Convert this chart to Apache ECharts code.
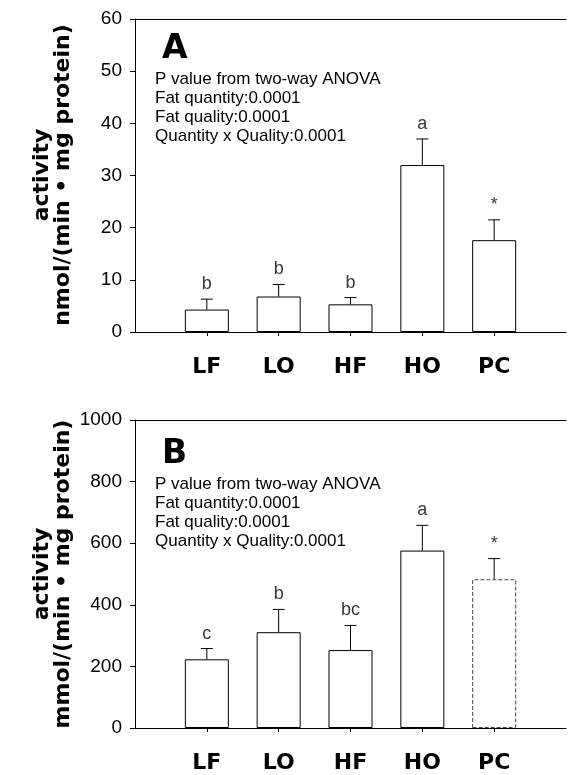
<!DOCTYPE html>
<html>
<head>
<meta charset="utf-8">
<script src="https://cdn.jsdelivr.net/npm/echarts@6/dist/echarts.min.js"></script>
<style>
html,body{margin:0;padding:0;background:#fff;}
#chart{width:569px;height:775px;}
</style>
</head>
<body>
<div id="chart"></div>
<script>
// ---- data ----
const categories = ['LF', 'LO', 'HF', 'HO', 'PC'];
const meanA = [4.3, 6.8, 5.3, 32.0, 17.6];
const errA  = [2.0, 2.3, 1.3, 5.0, 3.9];
const lettersA = ['b', 'b', 'b', 'a', '*'];
const meanB = [223, 311, 253, 576, 483];
const errB  = [35, 74, 80, 82, 67];
const lettersB = ['c', 'b', 'bc', 'a', '*'];
const yMaxA = 60, yIntA = 10;
const yMaxB = 1000, yIntB = 200;
const anovaLines = ['P value from two-way ANOVA', 'Fat quantity:0.0001', 'Fat quality:0.0001', 'Quantity x Quality:0.0001'];

const axisCats = [''].concat(categories, ['']);
const heavy = 'DejaVu Sans';
const reg = 'Liberation Sans';

function barData(means, dashedIdx) {
  return means.map((v, i) => ({
    value: [i + 1, v],
    itemStyle: i === dashedIdx ? { borderType: 'dashed', borderColor: '#444' } : {}
  }));
}
function errData(means, errs) {
  return means.map((v, i) => [i + 1, v, v + errs[i]]);
}
function letterData(means, errs, letters) {
  return means.map((v, i) => [i + 1, v + errs[i], letters[i]]);
}
function errRender(params, api) {
  const x = api.value(0);
  const p0 = api.coord([x, api.value(1)]);
  const p1 = api.coord([x, api.value(2)]);
  const cap = 6;
  return {
    type: 'group',
    children: [
      { type: 'line', shape: { x1: p0[0], y1: p0[1], x2: p1[0], y2: p1[1] }, style: { stroke: '#000', lineWidth: 1 } },
      { type: 'line', shape: { x1: p1[0] - cap, y1: p1[1], x2: p1[0] + cap, y2: p1[1] }, style: { stroke: '#000', lineWidth: 1 } }
    ]
  };
}

function xAxisBottom(gi) {
  return {
    type: 'category', gridIndex: gi, data: axisCats, boundaryGap: false,
    axisLine: { lineStyle: { color: '#000', width: 1 } },
    axisTick: { show: true, length: 4, inside: false, interval: (i) => i > 0 && i < axisCats.length - 1, lineStyle: { color: '#000' } },
    axisLabel: { interval: 0, margin: 24, color: '#000', fontFamily: heavy, fontWeight: 'bold', fontSize: 22 },
    splitLine: { show: false }
  };
}
function xAxisTop(gi) {
  return {
    type: 'category', gridIndex: gi, data: axisCats, boundaryGap: false, position: 'top',
    axisLine: { lineStyle: { color: '#000', width: 1 } },
    axisTick: { show: false }, axisLabel: { show: false }, splitLine: { show: false }
  };
}
function yAxis(gi, max, interval) {
  return {
    type: 'value', gridIndex: gi, min: 0, max: max, interval: interval,
    axisLine: { show: true, lineStyle: { color: '#000', width: 1 } },
    axisTick: { show: true, length: 5, lineStyle: { color: '#000' } },
    axisLabel: { color: '#000', fontFamily: reg, fontSize: 19, margin: 13, formatter: (v) => String(v) },
    splitLine: { show: false }
  };
}

function panelSeries(gi, means, errs, letters) {
  return [
    {
      type: 'bar', xAxisIndex: gi * 2, yAxisIndex: gi, barWidth: 44,
      data: barData(means, gi === 1 ? 4 : -1),
      itemStyle: { color: '#fff', borderColor: '#000', borderWidth: 1 },
      silent: true, animation: false
    },
    {
      type: 'custom', xAxisIndex: gi * 2, yAxisIndex: gi,
      data: errData(means, errs), renderItem: errRender, z: 5, silent: true, animation: false
    },
    {
      type: 'scatter', xAxisIndex: gi * 2, yAxisIndex: gi, symbolSize: 0,
      data: letterData(means, errs, letters), silent: true, animation: false,
      label: { show: true, position: 'top', distance: 6, formatter: (p) => p.value[2], color: '#000', fontFamily: reg, fontSize: 18 }
    }
  ];
}

function panelGraphics(dy, letter, unitLine, yc) {
  return [
    { type: 'text', x: 162, y: 49 + dy, style: { text: letter, font: 'bold 33px "DejaVu Sans"', fill: '#000', textAlign: 'left', textVerticalAlign: 'middle' } },
    { type: 'text', x: 155, y: 70 + dy, style: { text: anovaLines.join('\n'), font: '17px "Liberation Sans"', lineHeight: 19, fill: '#000', textAlign: 'left', textVerticalAlign: 'top' } },
    { type: 'text', x: 42, y: yc, rotation: Math.PI / 2, style: { text: 'activity', font: 'bold 22px "DejaVu Sans"', fill: '#000', textAlign: 'center', textVerticalAlign: 'middle' } },
    { type: 'text', x: 63, y: yc, rotation: Math.PI / 2, style: { text: unitLine, font: 'bold 22px "DejaVu Sans"', fill: '#000', textAlign: 'center', textVerticalAlign: 'middle' } }
  ];
}

const chart = echarts.init(document.getElementById('chart'), null, { renderer: 'canvas' });
chart.setOption({
  backgroundColor: '#fff',
  animation: false,
  grid: [
    { left: 135, top: 19, width: 437, height: 313 },
    { left: 135, top: 420, width: 434, height: 308 }
  ],
  xAxis: [xAxisBottom(0), xAxisTop(0), xAxisBottom(1), xAxisTop(1)],
  yAxis: [yAxis(0, yMaxA, yIntA), yAxis(1, yMaxB, yIntB)],
  series: panelSeries(0, meanA, errA, lettersA).concat(panelSeries(1, meanB, errB, lettersB)),
  graphic: panelGraphics(0, 'A', 'nmol/(min • mg protein)', 175).concat(panelGraphics(405, 'B', 'mmol/(min • mg protein)', 574))
});
</script>
</body>
</html>
